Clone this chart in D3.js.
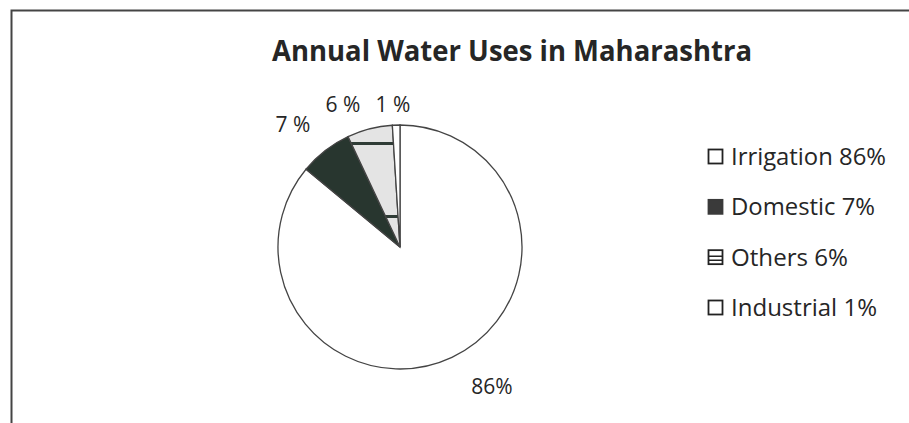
<!DOCTYPE html>
<html>
<head>
<meta charset="utf-8">
<script src="https://cdn.jsdelivr.net/npm/d3@7"></script>
<style>
  body { margin: 0; background: #fff; }
  text { font-family: "Open Sans", Lato, sans-serif; fill: #262626; }
</style>
</head>
<body>
<div id="chart"></div>
<script>
const title = 'Annual Water Uses in Maharashtra';
const categories = ['Irrigation', 'Domestic', 'Others', 'Industrial'];
const values = [86, 7, 6, 1];
const sliceLabels = ['86%', '7 %', '6 %', '1 %'];
const legendLabels = ['Irrigation 86%', 'Domestic 7%', 'Others 6%', 'Industrial 1%'];

const width = 909;
const height = 423;
const cx = 400, cy = 247, radius = 122;

const svg = d3.select('#chart')
  .append('svg')
  .attr('width', width)
  .attr('height', height);

// frame (only top and left edges are visible in the crop)
svg.append('path')
  .attr('d', `M11.5,${height} V10.5 H${width}`)
  .attr('fill', 'none')
  .attr('stroke', '#444')
  .attr('stroke-width', 2);

const defs = svg.append('defs');
const pat = defs.append('pattern')
  .attr('id', 'othersPat')
  .attr('patternUnits', 'userSpaceOnUse')
  .attr('width', 200).attr('height', 73);
pat.append('rect').attr('width', 200).attr('height', 73).attr('fill', '#e4e4e4');
pat.append('rect').attr('y', 41).attr('width', 200).attr('height', 3).attr('fill', '#2f3c36');

const fills = ['#ffffff', '#28362f', 'url(#othersPat)', '#ffffff'];

svg.append('text')
  .attr('x', 512)
  .attr('y', 61)
  .attr('text-anchor', 'middle')
  .attr('font-size', 29)
  .attr('font-weight', 'bold')
  .attr('textLength', 480)
  .attr('lengthAdjust', 'spacingAndGlyphs')
  .text(title);

const pie = d3.pie().sort(null).value((d) => d);
const arcs = pie(values);
const arc = d3.arc().innerRadius(0).outerRadius(radius);

const g = svg.append('g').attr('transform', `translate(${cx}, ${cy})`);

g.selectAll('path.slice')
  .data(arcs)
  .join('path')
  .attr('class', 'slice')
  .attr('d', arc)
  .attr('fill', (d, i) => fills[i])
  .attr('stroke', '#444')
  .attr('stroke-width', 1.3);

// slice labels
const labelPos = [[492, 394], [293, 132], [343, 112], [393, 112]];
svg.selectAll('text.slabel')
  .data(arcs)
  .join('text')
  .attr('class', 'slabel')
  .attr('x', (d, i) => labelPos[i][0])
  .attr('y', (d, i) => labelPos[i][1])
  .attr('text-anchor', 'middle')
  .attr('font-size', 21)
  .text((d, i) => sliceLabels[i]);

// legend
const legendWidths = [155, 144, 117, 146];
const ly = d3.scalePoint().domain(categories).range([156, 307]);
const legend = svg.selectAll('g.legend')
  .data(categories)
  .join('g')
  .attr('class', 'legend')
  .attr('transform', (d) => `translate(708, ${ly(d)})`);

legend.append('rect')
  .attr('x', 0.5).attr('y', -6.5)
  .attr('width', 14).attr('height', 14)
  .attr('fill', (d, i) => i === 1 ? '#3a3a3a' : '#fff')
  .attr('stroke', (d, i) => i === 1 ? '#3a3a3a' : '#222')
  .attr('stroke-width', 1.8);

legend.filter((d, i) => i === 2)
  .append('path')
  .attr('d', 'M1,-0.5 H15 M1,3.5 H15')
  .attr('stroke', '#222')
  .attr('stroke-width', 1.5);

legend.append('text')
  .attr('x', 23)
  .attr('y', 9)
  .attr('font-size', 24)
  .attr('textLength', (d, i) => legendWidths[i])
  .attr('lengthAdjust', 'spacingAndGlyphs')
  .text((d, i) => legendLabels[i]);
</script>
</body>
</html>
